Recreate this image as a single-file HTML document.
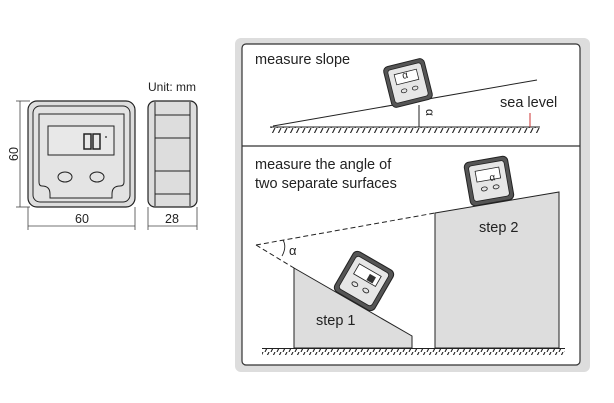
<!DOCTYPE html>
<html><head><style>body{margin:0;background:#fff}svg{display:block}text{font-family:"Liberation Sans",sans-serif;fill:#222}</style></head>
<body>
<svg width="614" height="403" viewBox="0 0 614 403" xmlns="http://www.w3.org/2000/svg">
<defs>
<pattern id="h" width="6" height="8" patternUnits="userSpaceOnUse"><path d="M5 0 L1 8" stroke="#222" stroke-width="1.1"/></pattern>
<g id="dev">
<rect x="-22" y="-22" width="44" height="44" rx="5" fill="#555" stroke="#222"/>
<rect x="-18" y="-18" width="36" height="36" rx="3" fill="#e6e6e6" stroke="#222" stroke-width="0.8"/>
<rect x="-12" y="-12" width="24" height="11" fill="#fff" stroke="#222" stroke-width="0.8"/>
<ellipse cx="-6" cy="7" rx="3" ry="2" fill="none" stroke="#222" stroke-width="0.8"/>
<ellipse cx="6" cy="7" rx="3" ry="2" fill="none" stroke="#222" stroke-width="0.8"/>
</g>
</defs>
<line x1="20" y1="101" x2="20" y2="207" stroke="#444" stroke-width="0.8"/>
<line x1="16" y1="101" x2="30" y2="101" stroke="#444" stroke-width="0.8"/>
<line x1="16" y1="207" x2="30" y2="207" stroke="#444" stroke-width="0.8"/>
<text x="18" y="154" font-size="12.5" transform="rotate(-90 18 154)" text-anchor="middle">60</text>
<rect x="28" y="101" width="107" height="106" rx="9" fill="#ddd" stroke="#222" stroke-width="1.2"/>
<rect x="33" y="106" width="97" height="96" rx="7" fill="#e2e2e2" stroke="#222"/>
<path d="M39 114 h85 v68 q0 4 -4 4 q-8 0 -8 8 v4 h-62 v-4 q0 -8 -8 -8 q-3 0 -3 -4 z" fill="#e4e4e4" stroke="#222"/>
<rect x="48" y="126" width="66" height="29" fill="#e8e8e8" stroke="#222"/>
<rect x="84" y="134" width="7" height="15" fill="none" stroke="#222" stroke-width="1.5"/>
<rect x="93" y="134" width="7" height="15" fill="none" stroke="#222" stroke-width="1.5"/>
<circle cx="106" cy="137" r="0.9" fill="#222"/>
<ellipse cx="65" cy="177" rx="7" ry="5" fill="none" stroke="#222"/>
<ellipse cx="97" cy="177" rx="7" ry="5" fill="none" stroke="#222"/>
<line x1="28" y1="207" x2="28" y2="230" stroke="#444" stroke-width="0.8"/>
<line x1="135" y1="207" x2="135" y2="230" stroke="#444" stroke-width="0.8"/>
<line x1="28" y1="226" x2="135" y2="226" stroke="#444" stroke-width="0.8"/>
<text x="82" y="223" font-size="12.5" text-anchor="middle">60</text>
<text x="148" y="91" font-size="12">Unit: mm</text>
<rect x="148" y="101" width="49" height="106" rx="7" fill="#ddd" stroke="#222" stroke-width="1.2"/>
<line x1="155" y1="102" x2="155" y2="206" stroke="#222"/>
<line x1="190" y1="102" x2="190" y2="206" stroke="#222"/>
<line x1="155" y1="115" x2="190" y2="115" stroke="#222"/>
<line x1="155" y1="138" x2="190" y2="138" stroke="#222"/>
<line x1="155" y1="171" x2="190" y2="171" stroke="#222"/>
<line x1="155" y1="194" x2="190" y2="194" stroke="#222"/>
<line x1="148" y1="207" x2="148" y2="230" stroke="#444" stroke-width="0.8"/>
<line x1="197" y1="207" x2="197" y2="230" stroke="#444" stroke-width="0.8"/>
<line x1="148" y1="226" x2="197" y2="226" stroke="#444" stroke-width="0.8"/>
<text x="172" y="223" font-size="12.5" text-anchor="middle">28</text>
<rect x="235" y="38" width="355" height="334" rx="6" fill="#ddd"/>
<rect x="242" y="44" width="338" height="321" rx="4" fill="#fff" stroke="#333" stroke-width="1.2"/>
<line x1="242" y1="146" x2="580" y2="146" stroke="#333" stroke-width="1.2"/>
<text x="255" y="64" font-size="14.5">measure slope</text>
<rect x="270" y="127" width="270" height="6" fill="url(#h)"/>
<line x1="270" y1="127" x2="540" y2="127" stroke="#222"/>
<line x1="273" y1="126" x2="537" y2="80" stroke="#222"/>
<line x1="419" y1="105" x2="419" y2="127" stroke="#222"/>
<text x="425" y="116" font-size="12" transform="rotate(90 429 113)">α</text>
<use href="#dev" transform="translate(408 83) rotate(-14) scale(0.95)"/>
<text x="403" y="79" font-size="10" transform="rotate(-14 403 79)">α</text>
<text x="500" y="107" font-size="14.5">sea level</text>
<line x1="530" y1="113" x2="530" y2="127" stroke="#c33"/>
<text x="255" y="169" font-size="14.5">measure the angle of</text>
<text x="255" y="188" font-size="14.5">two separate surfaces</text>
<polygon points="294,268 412,336 412,348 294,348" fill="#ddd" stroke="#222"/>
<polygon points="435,213 559,192 559,348 435,348" fill="#ddd" stroke="#222"/>
<line x1="256" y1="245" x2="435" y2="213" stroke="#222" stroke-dasharray="5,3"/>
<line x1="256" y1="245" x2="294" y2="268" stroke="#222" stroke-dasharray="5,3"/>
<path d="M283 240 q4 7 -1 16" fill="none" stroke="#222" stroke-width="0.9"/>
<text x="289" y="255" font-size="13">α</text>
<use href="#dev" transform="translate(364 281) rotate(30) scale(1.05)"/>
<rect x="368" y="275" width="7" height="7" fill="#333" transform="rotate(30 371 278)"/>
<use href="#dev" transform="translate(489 181) rotate(-10)"/>
<text x="490" y="181" font-size="10" transform="rotate(-10 490 181)">α</text>
<text x="316" y="325" font-size="14.5">step 1</text>
<text x="479" y="232" font-size="14.5">step 2</text>
<rect x="262" y="349" width="303" height="6" fill="url(#h)"/>
<line x1="262" y1="348.5" x2="565" y2="348.5" stroke="#222"/>
</svg>
</body></html>
